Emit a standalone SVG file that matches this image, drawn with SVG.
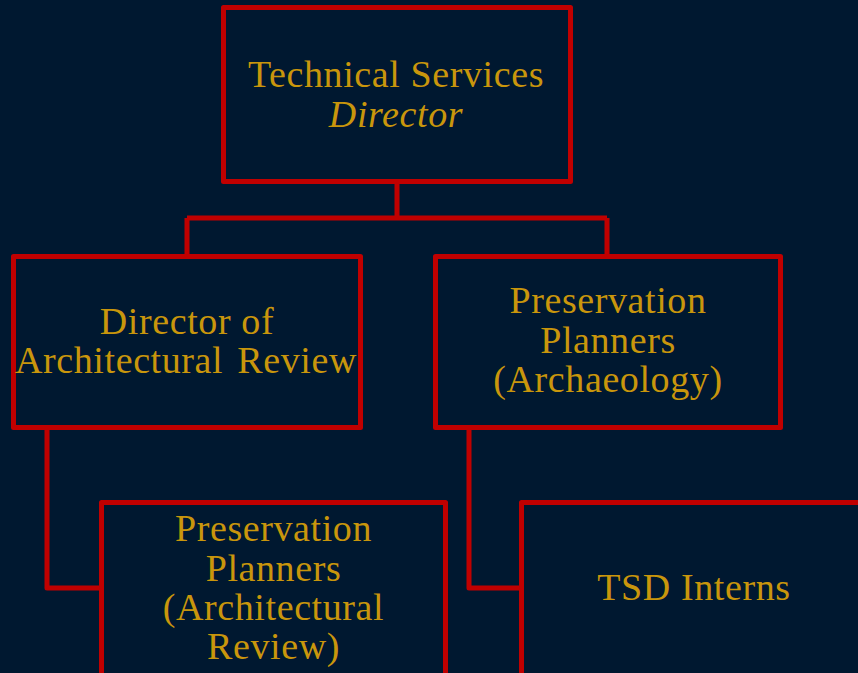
<svg xmlns="http://www.w3.org/2000/svg" width="858" height="673" viewBox="0 0 858 673">
<style>
.box{fill:#001830;stroke:#c00000;stroke-width:5;stroke-linejoin:round}
.con{fill:none;stroke:#c00000;stroke-width:5;stroke-linejoin:round}
text{font-family:"Liberation Serif","Times New Roman",serif;font-size:38px;letter-spacing:0.6px;fill:#c9960c;text-anchor:middle}
.it{font-style:italic}
</style>
<rect width="858" height="673" fill="#001830"/>
<g id="connectors">
<path class="con" d="M397 184 V218 M187 218 H607 M187 218 V254 M607 218 V254"/>
<path class="con" d="M47 430 V588 H101"/>
<path class="con" d="M469 430 V588 H521"/>
</g>
<g id="n-director">
<rect class="box" x="223.5" y="7.5" width="347" height="174"/>
<text x="396" y="87">Technical Services</text>
<text class="it" x="396" y="127">Director</text>
</g>
<g id="n-arch-review">
<rect class="box" x="13.5" y="256.5" width="347" height="171"/>
<text x="187" y="334">Director of</text>
<text x="186" y="373" word-spacing="4">Architectural Review</text>
</g>
<g id="n-archaeology">
<rect class="box" x="435.5" y="256.5" width="345" height="171"/>
<text x="608" y="313">Preservation</text>
<text x="608" y="353">Planners</text>
<text x="608" y="392">(Archaeology)</text>
</g>
<g id="n-pp-arch">
<rect class="box" x="101.5" y="502.5" width="344" height="200"/>
<text x="273.5" y="541">Preservation</text>
<text x="273.5" y="581">Planners</text>
<text x="273.5" y="620">(Architectural</text>
<text x="273.5" y="659">Review)</text>
</g>
<g id="n-interns">
<rect class="box" x="521.5" y="502.5" width="345" height="200"/>
<text x="694" y="600">TSD Interns</text>
</g>
</svg>
